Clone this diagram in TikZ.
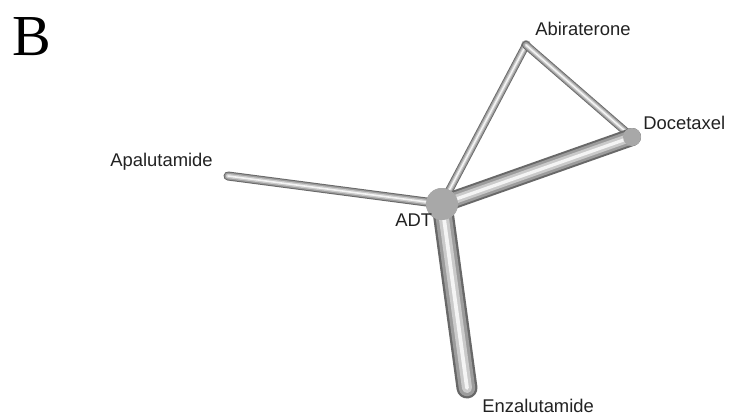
\documentclass[tikz,border=0pt]{standalone}
\usepackage{fontspec}
\setmainfont{Liberation Sans}
\newfontfamily\panelfont{Liberation Serif}
\usetikzlibrary{positioning, calc}
\definecolor{tubedark}{HTML}{686868}
\definecolor{tubemid}{HTML}{9C9C9C}
\definecolor{tubelight}{HTML}{CACACA}
\definecolor{tubeshine}{HTML}{F4F4F4}
\definecolor{nodegray}{HTML}{A8A8A8}
\definecolor{labeltext}{HTML}{222222}
\newcommand{\tube}[3]{%
  \draw[line cap=round, tubedark, line width=#3pt] (#1.center) -- (#2.center);
  \draw[line cap=round, tubemid, line width=0.78*#3pt] (#1.center) -- (#2.center);
  \draw[line cap=round, tubelight, line width=0.48*#3pt] (#1.center) -- (#2.center);
  \draw[line cap=round, tubeshine, line width=0.18*#3pt] (#1.center) -- (#2.center);}

\begin{document}
\begin{tikzpicture}[x=0.5pt, y=-0.5pt,
    drug/.style={circle, fill=nodegray, inner sep=0pt},
    lbl/.style={inner sep=0pt, text=labeltext, font=\fontsize{9.2}{11}\selectfont}]
  \useasboundingbox[fill=white] (0,0) rectangle (729,419);
  \coordinate (apa) at (228,176);
  \coordinate (enz) at (467,388);
  \node[drug, minimum size=5pt] (abi) at (526,45) {};
  \node[drug, minimum size=9pt] (doc) at (632,137) {};
  \node[drug, minimum size=16pt] (adt) at (442,204) {};
  % network edges, thickness ~ number of trials
  \tube{adt}{apa}{4.5}
  \tube{adt}{abi}{4}
  \tube{abi}{doc}{4}
  \tube{adt}{doc}{9}
  \tube{adt}{enz}{10.5}
  \node[drug, minimum size=9pt] at (doc.center) {};
  \node[drug, minimum size=16pt] at (adt.center) {};
  % labels
  \node[lbl, anchor=base west] (tabi) at (535,35) {Abiraterone};
  \node[lbl, anchor=base west] (tdoc) at (643,129) {Docetaxel};
  \node[lbl, anchor=base west] (tapa) at (110,166) {Apalutamide};
  \node[lbl, anchor=base west] (tadt) at (395,226) {ADT};
  \node[lbl, anchor=base west] (tenz) at (482,412) {Enzalutamide};
  \node[inner sep=0pt, anchor=base west, font=\panelfont\fontsize{29}{30}\selectfont] (panel) at (12,55) {B};
\end{tikzpicture}
\end{document}
